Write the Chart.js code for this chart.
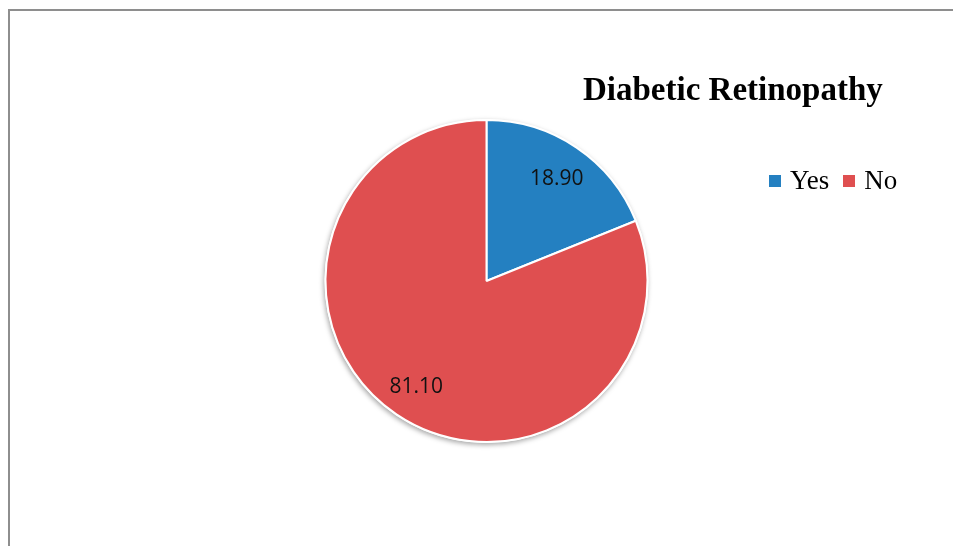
<!DOCTYPE html>
<html>
<head>
<meta charset="utf-8">
<script src="https://cdn.jsdelivr.net/npm/chart.js@4/dist/chart.umd.min.js"></script>
<style>
  html, body { margin: 0; padding: 0; background: #ffffff; }
  #wrap { position: relative; width: 953px; height: 546px; overflow: hidden; }
  #frame { position: absolute; left: 8px; top: 9px; width: 1000px; height: 600px;
           border-left: 2px solid #8e8e8e; border-top: 2px solid #8e8e8e; }
  #chart { position: absolute; left: 0; top: 0; width: 953px; height: 546px; }
  #title { position: absolute; left: 583px; top: 73px; font: bold 33px/33px "Liberation Serif", "Times New Roman", serif;
           color: #000; white-space: nowrap; }
  #legend { position: absolute; left: 769px; top: 167px; display: flex; align-items: center;
            font: 27px/27px "Liberation Serif", "Times New Roman", serif; color: #000; white-space: nowrap; }
  #legend .item { display: flex; align-items: center; margin-right: 14px; }
  #legend .box { width: 12px; height: 12px; margin-right: 9px; }
</style>
</head>
<body>
<div id="wrap">
  <div id="frame"></div>
  <canvas id="chart"></canvas>
  <div id="title">Diabetic Retinopathy</div>
  <div id="legend"></div>
</div>
<script>
// valores (porcentaje)
const categorias = ['Yes', 'No'];
const valores = [18.90, 81.10];
const colores = ['#2480c1', '#df4f50'];

// leyenda html a partir de las categorías
const legend = document.getElementById('legend');
categorias.forEach((nombre, i) => {
  const item = document.createElement('div');
  item.className = 'item';
  const box = document.createElement('span');
  box.className = 'box';
  box.style.background = colores[i];
  const txt = document.createElement('span');
  txt.textContent = nombre;
  item.appendChild(box);
  item.appendChild(txt);
  legend.appendChild(item);
});

// sombra suave debajo del pastel, como en Excel
const pieShadow = {
  id: 'pieShadow',
  beforeDatasetsDraw(chart) {
    const arc = chart.getDatasetMeta(0).data[0];
    if (!arc) return;
    const ctx = chart.ctx;
    ctx.save();
    ctx.shadowColor = 'rgba(0,0,0,0.35)';
    ctx.shadowBlur = 5;
    ctx.shadowOffsetX = -1;
    ctx.shadowOffsetY = 2;
    ctx.fillStyle = '#ffffff';
    ctx.beginPath();
    ctx.arc(arc.x, arc.y, arc.outerRadius + 1, 0, Math.PI * 2);
    ctx.fill();
    ctx.restore();
  },
};

// etiquetas de valor dentro de cada rebanada
const sliceLabels = {
  id: 'sliceLabels',
  afterDatasetsDraw(chart) {
    const ctx = chart.ctx;
    const meta = chart.getDatasetMeta(0);
    ctx.save();
    ctx.font = '21px "Open Sans", "Noto Sans", sans-serif';
    ctx.fillStyle = '#111111';
    ctx.textAlign = 'center';
    ctx.textBaseline = 'middle';
    meta.data.forEach((arc, i) => {
      const mid = (arc.startAngle + arc.endAngle) / 2;
      const r = arc.outerRadius * 0.78;
      ctx.fillText(valores[i].toFixed(2), arc.x + Math.cos(mid) * r, arc.y + Math.sin(mid) * r + 2);
    });
    ctx.restore();
  },
};

new Chart(document.getElementById('chart'), {
  type: 'pie',
  data: {
    labels: categorias,
    datasets: [{
      data: valores,
      backgroundColor: colores,
      borderColor: '#ffffff',
      borderWidth: 2,
    }],
  },
  options: {
    responsive: true,
    maintainAspectRatio: false,
    animation: false,
    layout: { padding: { left: 324, right: 304, top: 119, bottom: 103 } },
    plugins: {
      legend: { display: false },
      title: { display: false },
      tooltip: { enabled: false },
    },
  },
  plugins: [pieShadow, sliceLabels],
});
</script>
</body>
</html>
